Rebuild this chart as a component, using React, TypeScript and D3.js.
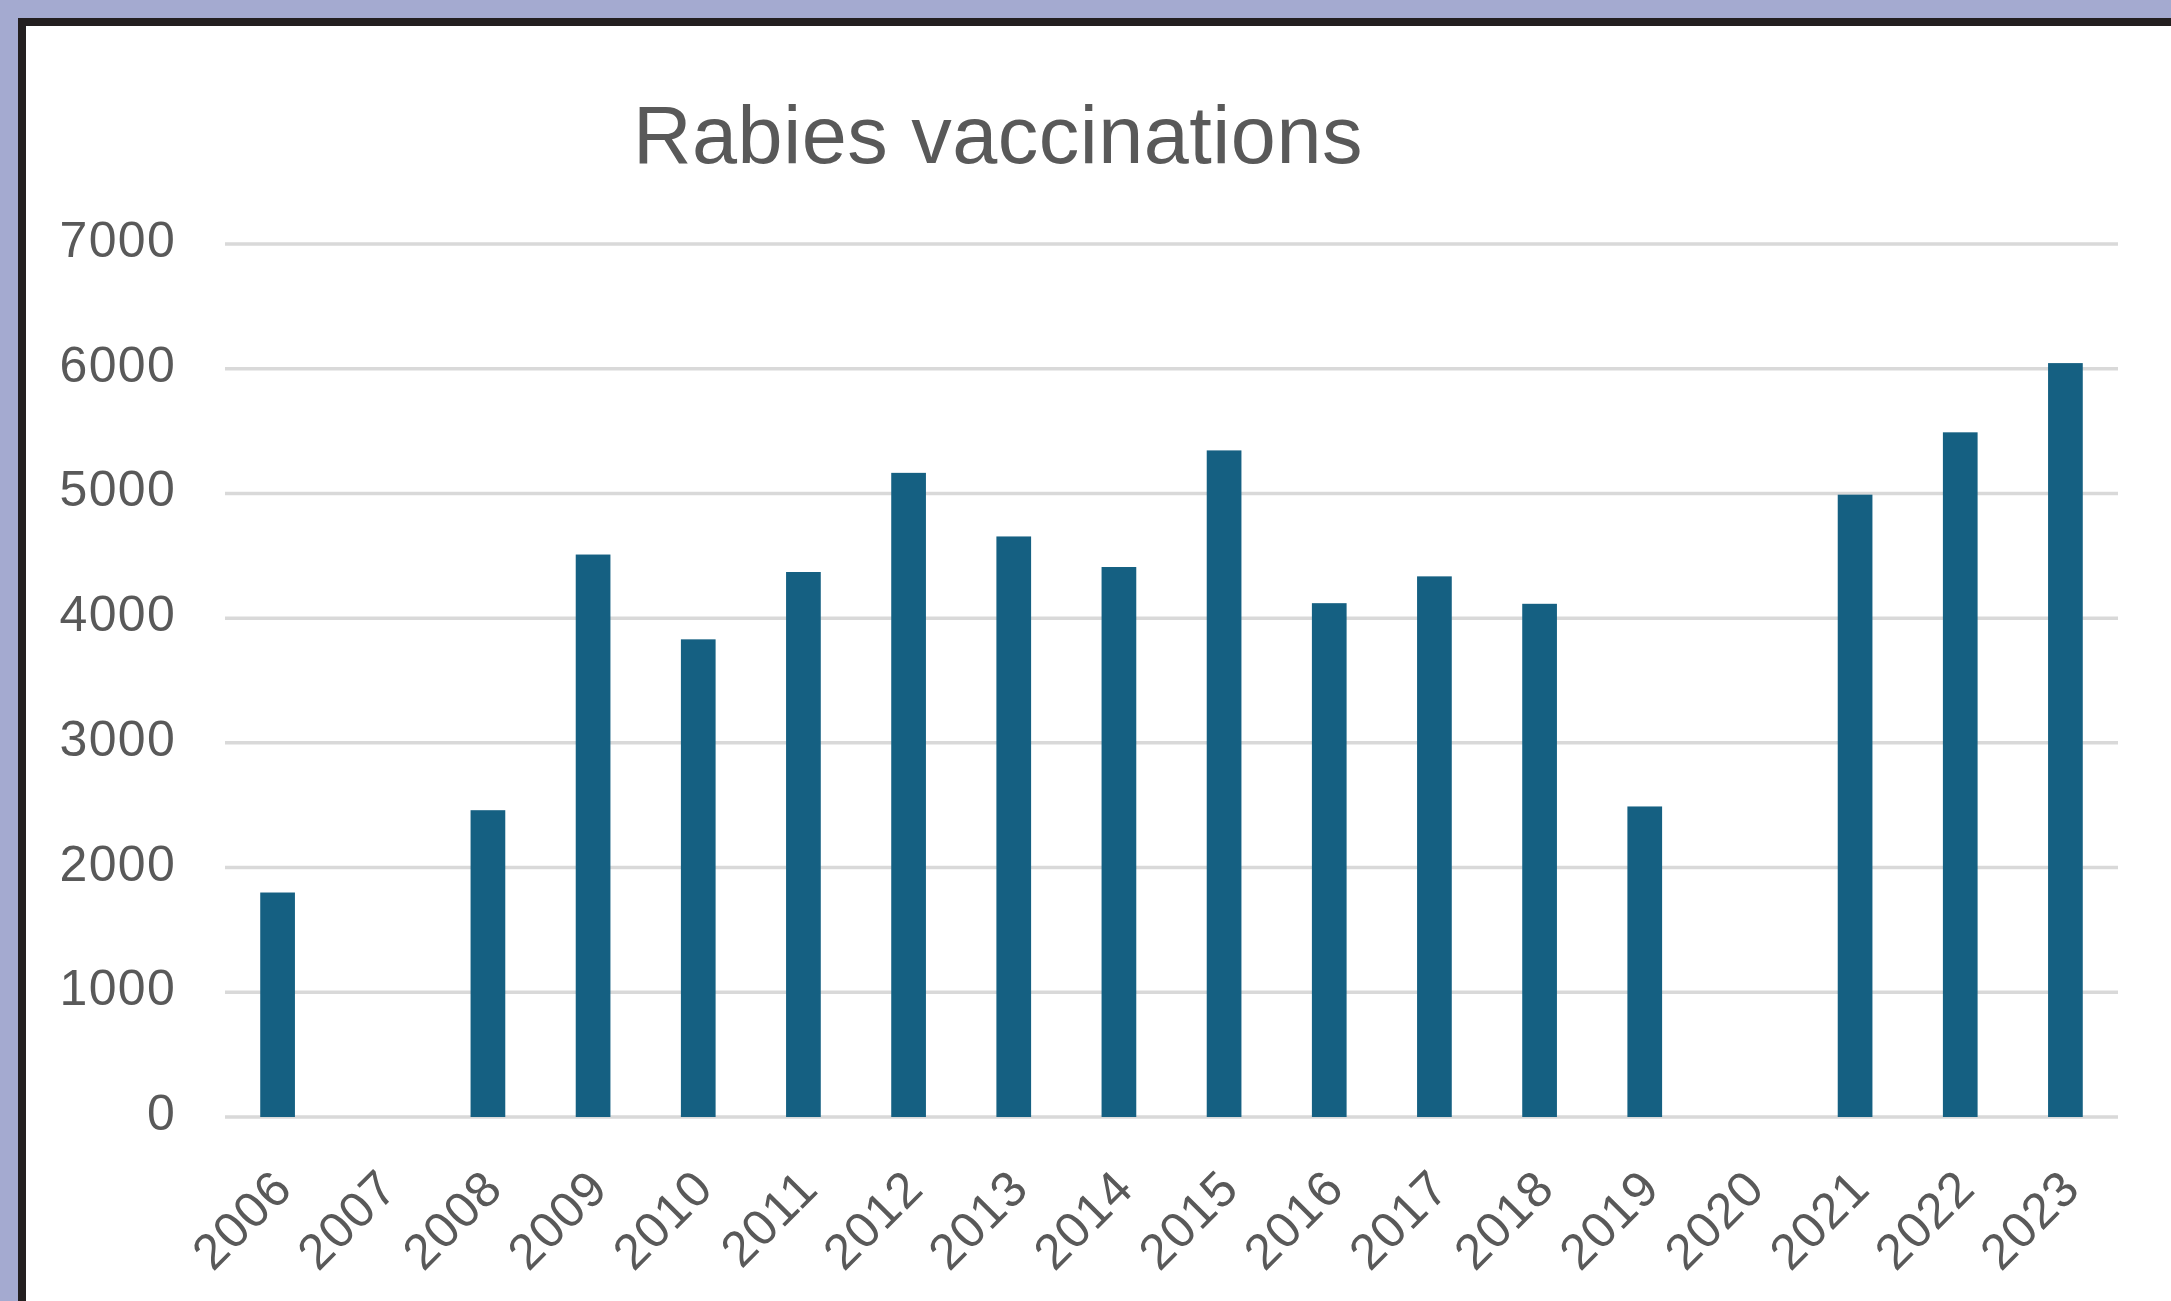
import React from "react";
import * as d3 from "d3";

const years = ["2006","2007","2008","2009","2010","2011","2012","2013","2014","2015","2016","2017","2018","2019","2020","2021","2022","2023"];
const values = [1800, 0, 2460, 4510, 3830, 4370, 5165, 4655, 4410, 5345, 4120, 4335, 4115, 2490, 0, 4990, 5490, 6045];
const yTicks = [0, 1000, 2000, 3000, 4000, 5000, 6000, 7000];
const title = "Rabies vaccinations";

const W = 2171, H = 1301;
const plot = { left: 225, right: 2118, top: 244, bottom: 1117 };
const FONT = "'Liberation Sans', Arial, sans-serif";

export default function App() {
  const x = d3.scaleBand<string>().domain(years).range([plot.left, plot.right]).paddingInner(0.67).paddingOuter(0.335);
  const y = d3.scaleLinear().domain([0, 7000]).range([plot.bottom, plot.top]);
  return (
    <svg width={W} height={H} style={{ position: "absolute", left: 0, top: 0, display: "block" }}>
      <rect x={0} y={0} width={W} height={H} fill="#A4AAD0" />
      <rect x={18} y={18} width={W - 18} height={H - 18} fill="#231F20" />
      <rect x={26} y={26} width={W - 26} height={H - 26} fill="#FFFFFF" />
      <text x={998} y={163} textAnchor="middle" fontFamily={FONT} fontSize={81} letterSpacing={0.5} fill="#595959">{title}</text>
      {yTicks.map((t) => (
        <g key={t}>
          <line x1={plot.left} x2={plot.right} y1={y(t)} y2={y(t)} stroke="#D9D9D9" strokeWidth={3.5} />
          <text x={176} y={y(t) + 13} textAnchor="end" fontFamily={FONT} fontSize={50} letterSpacing={1.3} fill="#595959">{t}</text>
        </g>
      ))}
      {years.map((yr, i) => (
        values[i] > 0 ? (
          <rect key={yr} x={x(yr)} y={y(values[i])} width={x.bandwidth()} height={y(0) - y(values[i])} fill="#156082" />
        ) : null
      ))}
      {years.map((yr) => {
        const cx = (x(yr) as number) + x.bandwidth() / 2 + 17;
        const cy = 1191;
        return (
          <text key={yr} x={cx} y={cy} textAnchor="end" transform={`rotate(-45 ${cx} ${cy})`} fontFamily={FONT} fontSize={50} letterSpacing={1} fill="#595959">{yr}</text>
        );
      })}
    </svg>
  );
}
